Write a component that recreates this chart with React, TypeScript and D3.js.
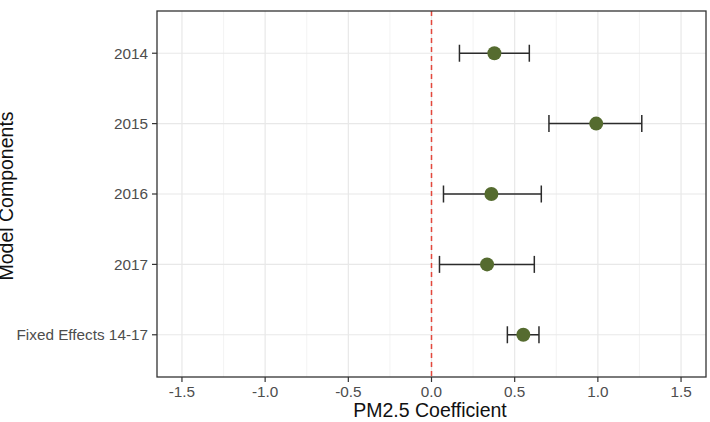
import React, { useRef, useEffect } from 'react';
import * as d3 from 'd3';

// model components, top to bottom
const components = ['2014', '2015', '2016', '2017', 'Fixed Effects 14-17'];
const estimates = [0.378, 0.99, 0.36, 0.334, 0.552];
const lowerCI = [0.168, 0.706, 0.072, 0.048, 0.456];
const upperCI = [0.588, 1.264, 0.66, 0.618, 0.646];
const xTicks = [-1.5, -1.0, -0.5, 0.0, 0.5, 1.0, 1.5];
const xMinor = [-1.25, -0.75, -0.25, 0.25, 0.75, 1.25];

const W = 710;
const H = 422;
const FONT = '"Liberation Sans", Arial, sans-serif';

const App = () => {
  const svgRef = useRef<SVGSVGElement>(null);

  useEffect(() => {
    if (!svgRef.current) return;
    const svg = d3.select(svgRef.current);
    svg.selectAll('*').remove();

    const left = 157, right = 706, top = 11, bottom = 377;

    const x = d3.scaleLinear().domain([-1.65, 1.65]).range([left, right]);
    const y = d3.scalePoint<string>().domain(components).range([top, bottom]).padding(0.6);
    const fmt = (v: number) => d3.format('.1f')(v).replace('\u2212', '-');

    const rows = components.map((c, i) => ({
      name: c, est: estimates[i], lo: lowerCI[i], hi: upperCI[i],
    }));

    // panel background
    svg.append('rect')
      .attr('x', left).attr('y', top)
      .attr('width', right - left).attr('height', bottom - top)
      .attr('fill', '#fff');

    // minor grid
    svg.append('g').selectAll('line')
      .data(xMinor).enter().append('line')
      .attr('x1', d => x(d)).attr('x2', d => x(d))
      .attr('y1', top).attr('y2', bottom)
      .attr('stroke', '#f0f0f0').attr('stroke-width', 0.8);

    // major grid
    svg.append('g').selectAll('line')
      .data(xTicks).enter().append('line')
      .attr('x1', d => x(d)).attr('x2', d => x(d))
      .attr('y1', top).attr('y2', bottom)
      .attr('stroke', '#e8e8e8').attr('stroke-width', 1.2);

    svg.append('g').selectAll('line')
      .data(components).enter().append('line')
      .attr('x1', left).attr('x2', right)
      .attr('y1', d => y(d)!).attr('y2', d => y(d)!)
      .attr('stroke', '#e8e8e8').attr('stroke-width', 1.2);

    // zero reference line
    svg.append('line')
      .attr('x1', x(0)).attr('x2', x(0))
      .attr('y1', top).attr('y2', bottom)
      .attr('stroke', '#e3473c').attr('stroke-width', 1.5)
      .attr('stroke-dasharray', '5,4');

    // error bars
    const bars = svg.append('g').attr('stroke', '#2b2b2b').attr('stroke-width', 1.5);
    const capH = 8.5;
    rows.forEach(r => {
      const yy = y(r.name)!;
      bars.append('line')
        .attr('x1', x(r.lo)).attr('x2', x(r.hi))
        .attr('y1', yy).attr('y2', yy);
      bars.append('line')
        .attr('x1', x(r.lo)).attr('x2', x(r.lo))
        .attr('y1', yy - capH).attr('y2', yy + capH);
      bars.append('line')
        .attr('x1', x(r.hi)).attr('x2', x(r.hi))
        .attr('y1', yy - capH).attr('y2', yy + capH);
    });

    // points
    svg.append('g').selectAll('circle')
      .data(rows).enter().append('circle')
      .attr('cx', d => x(d.est)).attr('cy', d => y(d.name)!)
      .attr('r', 7)
      .attr('fill', '#556b2f');

    // panel border
    svg.append('rect')
      .attr('x', left).attr('y', top)
      .attr('width', right - left).attr('height', bottom - top)
      .attr('fill', 'none').attr('stroke', '#333').attr('stroke-width', 1.3);

    // x axis ticks + labels
    const xa = svg.append('g');
    xTicks.forEach(t => {
      xa.append('line')
        .attr('x1', x(t)).attr('x2', x(t))
        .attr('y1', bottom).attr('y2', bottom + 5)
        .attr('stroke', '#333').attr('stroke-width', 1.2);
      xa.append('text')
        .attr('x', x(t)).attr('y', 397)
        .attr('text-anchor', 'middle')
        .attr('font-family', FONT).attr('font-size', 15.3)
        .attr('fill', '#4d4d4d')
        .text(fmt(t));
    });

    // y axis ticks + labels
    const ya = svg.append('g');
    components.forEach(c => {
      const yy = y(c)!;
      ya.append('line')
        .attr('x1', left - 5).attr('x2', left)
        .attr('y1', yy).attr('y2', yy)
        .attr('stroke', '#333').attr('stroke-width', 1.2);
      ya.append('text')
        .attr('x', 148).attr('y', yy)
        .attr('dy', '0.35em')
        .attr('text-anchor', 'end')
        .attr('font-family', FONT).attr('font-size', 15.3)
        .attr('fill', '#4d4d4d')
        .text(c);
    });

    // axis titles
    svg.append('text')
      .attr('x', 430).attr('y', 417)
      .attr('text-anchor', 'middle')
      .attr('font-family', FONT).attr('font-size', 19.5)
      .attr('fill', '#111')
      .text('PM2.5 Coefficient');

    svg.append('text')
      .attr('transform', `translate(12.5,196) rotate(-90)`)
      .attr('text-anchor', 'middle')
      .attr('font-family', FONT).attr('font-size', 19.5)
      .attr('fill', '#111')
      .text('Model Components');
  }, []);

  return (
    <svg
      ref={svgRef}
      width={W}
      height={H}
      style={{ position: 'absolute', left: 0, top: 0, background: '#fff' }}
    />
  );
};

export default App;
